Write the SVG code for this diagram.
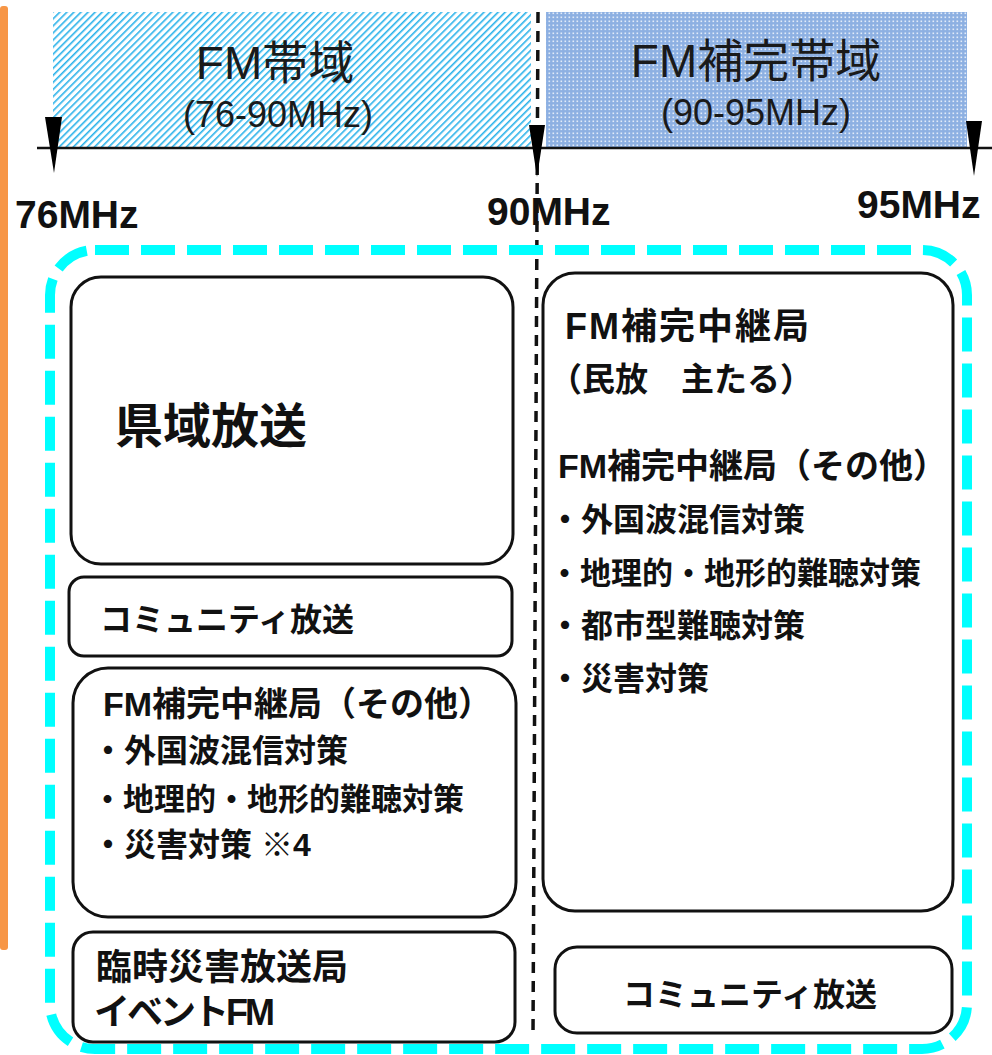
<svg xmlns="http://www.w3.org/2000/svg" width="992" height="1055" viewBox="0 0 992 1055">
<defs>
  <pattern id="hatch" patternUnits="userSpaceOnUse" width="5" height="5" patternTransform="rotate(45)">
    <rect width="5" height="5" fill="#ffffff"/>
    <rect width="1.6" height="5" fill="#2ab2ea"/>
  </pattern>
  <pattern id="dots" patternUnits="userSpaceOnUse" width="4" height="4">
    <rect width="4" height="4" fill="#8db0e2"/>
    <rect x="0.5" y="0.5" width="1.6" height="1.6" fill="#ffffff" opacity="0.75"/>
  </pattern>
  <style>
    .box { fill: #ffffff; stroke: #111111; stroke-width: 3; }
    .t { font-family: "Liberation Sans", "Noto Sans CJK JP", sans-serif; fill: #111111; }
    .b { font-weight: bold; }
    .band { font-family: "Liberation Sans", "Noto Sans CJK JP", sans-serif; fill: #1a1a1a; text-anchor: middle; }
    .tri { fill: #000000; }
  </style>
</defs>

<rect id="orange-bar" x="0" y="6" width="8" height="944" rx="3" fill="#f79646"/>

<g id="band-fm">
  <rect x="53" y="12" width="478" height="136" fill="url(#hatch)"/>
  <text class="band" x="275" y="79" font-size="46">FM帯域</text>
  <text class="band" x="278" y="127" font-size="36" fill="#333333">(76-90MHz)</text>
</g>
<g id="band-fm-hokan">
  <rect x="546" y="12" width="421" height="136" fill="url(#dots)"/>
  <text class="band" x="756" y="77" font-size="46">FM補完帯域</text>
  <text class="band" x="756" y="125" font-size="36" fill="#333333">(90-95MHz)</text>
</g>

<g id="connectors">
  <line x1="37" y1="148" x2="992" y2="148" stroke="#111111" stroke-width="2.5"/>
  <line x1="538" y1="12" x2="533" y2="1035" stroke="#111111" stroke-width="3.5" stroke-dasharray="11 8"/>
  <polygon class="tri" points="45,117 62,117 54,173"/>
  <polygon class="tri" points="529,125 545,125 537,177"/>
  <polygon class="tri" points="966,121 982,121 974,176"/>
  <rect x="50" y="250" width="917" height="799" rx="45" fill="none" stroke="#00ffff" stroke-width="10" stroke-dasharray="34 12"/>
</g>

<g id="freq-labels">
  <text class="t b" x="15" y="228" font-size="39">76MHz</text>
  <text class="t b" x="487" y="225" font-size="39">90MHz</text>
  <text class="t b" x="857" y="218" font-size="39">95MHz</text>
</g>

<g id="node-kenikisoso">
  <rect class="box" x="71" y="277" width="442" height="287" rx="30"/>
  <text class="t b" x="115" y="443" font-size="48">県域放送</text>
</g>

<g id="node-community-left">
  <rect class="box" x="69" y="577" width="443" height="79" rx="15"/>
  <text class="t b" x="100" y="631" font-size="32">コミュニティ放送</text>
</g>

<g id="node-fm-hokan-left">
  <rect class="box" x="73" y="668" width="443" height="249" rx="35"/>
  <text class="t b" x="103" y="716" font-size="34">FM補完中継局（その他）</text>
  <text class="t b" x="92" y="762" font-size="32">・外国波混信対策</text>
  <text class="t b" x="92" y="810" font-size="31">・地理的・地形的難聴対策</text>
  <text class="t b" x="92" y="856" font-size="32">・災害対策 ※4</text>
</g>

<g id="node-rinji">
  <rect class="box" x="73" y="932" width="442" height="110" rx="20"/>
  <text class="t b" x="96" y="980" font-size="36">臨時災害放送局</text>
  <text class="t b" x="94" y="1025" font-size="36" letter-spacing="-3">イベントFM</text>
</g>

<g id="node-fm-hokan-right">
  <rect class="box" x="543" y="273" width="410" height="638" rx="32"/>
  <text class="t b" x="565" y="339" font-size="36" letter-spacing="2">FM補完中継局</text>
  <text class="t b" x="549" y="391" font-size="33">（民放　主たる）</text>
  <text class="t b" x="558" y="478" font-size="34">FM補完中継局（その他）</text>
  <text class="t b" x="549" y="531" font-size="32">・外国波混信対策</text>
  <text class="t b" x="549" y="584" font-size="31">・地理的・地形的難聴対策</text>
  <text class="t b" x="549" y="637" font-size="32">・都市型難聴対策</text>
  <text class="t b" x="549" y="690" font-size="32">・災害対策</text>
</g>

<g id="node-community-right">
  <rect class="box" x="555" y="947" width="397" height="86" rx="22"/>
  <text class="t b" x="623" y="1006" font-size="32">コミュニティ放送</text>
</g>
</svg>
